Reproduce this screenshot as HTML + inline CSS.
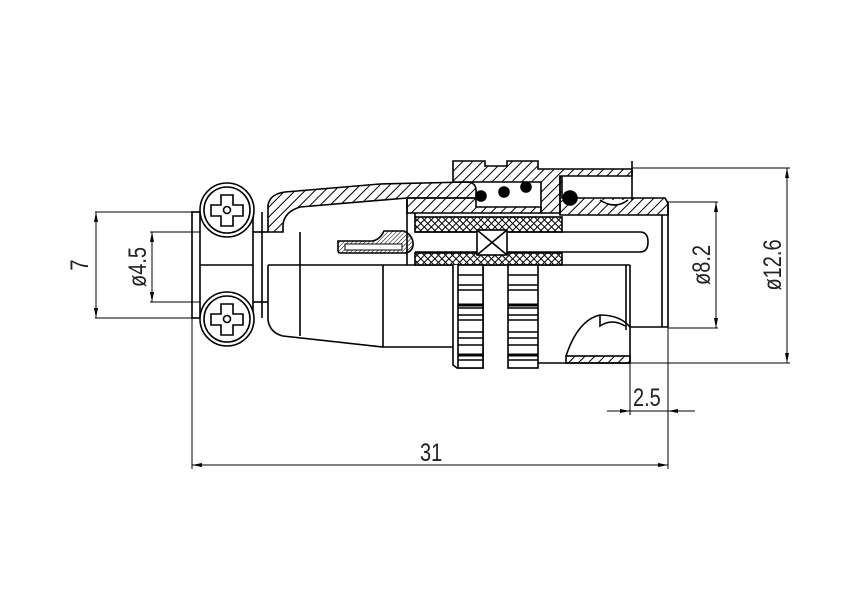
<!DOCTYPE html>
<html><head><style>
html,body{margin:0;padding:0;background:#fff;}
svg{display:block;}
text{font-family:"Liberation Sans Narrow","Liberation Sans",sans-serif;font-size:25px;fill:#222;}
</style></head><body>
<svg width="867" height="615" viewBox="0 0 867 615" xmlns="http://www.w3.org/2000/svg">
<defs>
<pattern id="h" patternUnits="userSpaceOnUse" width="7" height="7" patternTransform="rotate(45)">
<line x1="0" y1="0" x2="0" y2="7" stroke="#000" stroke-width="2"/></pattern>
<pattern id="hf" patternUnits="userSpaceOnUse" width="3" height="3" patternTransform="rotate(45)">
<line x1="0" y1="0" x2="0" y2="3" stroke="#000" stroke-width="1"/></pattern>
<pattern id="x" patternUnits="userSpaceOnUse" width="5" height="5" patternTransform="rotate(45)">
<rect width="5" height="5" fill="#fff"/><line x1="0" y1="0" x2="0" y2="5" stroke="#000" stroke-width="2"/><line x1="0" y1="0" x2="5" y2="0" stroke="#000" stroke-width="2"/></pattern>
<marker id="a" viewBox="0 0 10 4" refX="10" refY="2" markerWidth="10" markerHeight="4" orient="auto-start-reverse" markerUnits="userSpaceOnUse"><path d="M0,0L10,2L0,4z" fill="#000"/></marker>
</defs>
<g fill="none" stroke="#000" stroke-width="1.6">
<rect x="192" y="212" width="8" height="106"/>
<line x1="253" y1="212" x2="253" y2="318"/>
<line x1="262" y1="212" x2="262" y2="318"/>
<line x1="200" y1="265" x2="253" y2="265"/>
<line x1="253" y1="232" x2="268" y2="232"/>
<line x1="253" y1="302" x2="268" y2="302"/>
<g fill="#fff">
<circle cx="227" cy="210" r="27"/><circle cx="227" cy="210" r="23"/>
<circle cx="227" cy="319" r="27"/><circle cx="227" cy="319" r="23"/>
</g>
<path d="M221,195h12v10h10v11h-10v10h-12v-10h-10v-11h10z"/>
<circle cx="227" cy="210" r="3.5"/>
<path d="M221,304h12v10h10v11h-10v10h-12v-10h-10v-11h10z"/>
<circle cx="227" cy="319" r="3.5"/>
<path d="M268,232 V205 Q270,194 285,192 L380,184 L468,182 Q476,183 476,190 V198 L407,198 L300,207 Q284,212 283,225 V232 Z" fill="url(#h)"/>
<line x1="407" y1="198" x2="407" y2="265"/>
<line x1="268" y1="265" x2="630" y2="265"/>
<path d="M268,265 V320 Q270,333 283,336 L383,347 V265"/>
<line x1="300" y1="232" x2="300" y2="336"/>
<line x1="383" y1="347" x2="453" y2="347"/>
<path d="M338,241 H372 Q380,240 384,231 H404 Q414,236 413,246 Q411,253 404,253 H340 Q338,253 338,250Z" fill="url(#hf)"/>
<path d="M345,244 H402 V250 H345Z" fill="#fff" stroke-width="1"/>
<path d="M453,161 H485 V166 H507 V161 H538 V169 H632 V176 H560 V213 H541 V182 H453Z" fill="url(#h)"/>
<path d="M407,198 H476 V207 H541 V213 H407Z" fill="url(#h)"/>
<path d="M560,177 H562 V198 H665 L668,203 V215 H560Z" fill="url(#h)"/>
<line x1="415" y1="213" x2="415" y2="217"/>
<line x1="632" y1="161" x2="632" y2="200"/>
<g fill="#000"><circle cx="481" cy="196" r="5"/><circle cx="504" cy="192" r="5"/><circle cx="526" cy="187" r="5"/><circle cx="570" cy="198" r="7"/></g>
<path d="M600,200 Q615,210 628,200" fill="#fff"/>
<rect x="415" y="217" width="147" height="15" fill="url(#x)"/>
<rect x="415" y="253" width="147" height="12" fill="url(#x)"/>
<path d="M415,232 H640 Q648,232 648,242 Q648,252 640,252 H415"/>
<rect x="477" y="230" width="30" height="25" fill="#fff"/>
<path d="M477,230 L507,255 M507,230 L477,255"/>
<line x1="668" y1="203" x2="668" y2="327"/>
<line x1="662" y1="215" x2="662" y2="327"/>
<line x1="630" y1="265" x2="630" y2="363"/>
<line x1="626" y1="265" x2="626" y2="330"/>
<path d="M630,327 H668"/>
<g fill="#fff">
<path d="M453,265 V365 L457,368 H483 V265"/>
<rect x="458" y="265" width="25" height="103"/>
<rect x="508" y="265" width="30" height="103"/>
</g>
<g stroke-width="1.4">
<path d="M458,275H483M458,285H483M458,290H483M458,308H483M458,315H483M458,320H483M458,332H483M458,338H483M458,345H483M458,360H483"/>
<path d="M508,275H538M508,285H538M508,290H538M508,308H538M508,315H538M508,320H538M508,332H538M508,338H538M508,345H538M508,360H538"/>
</g>
<path d="M458,305H483M508,305H538M458,355H483M508,355H538" stroke-width="3"/>
<line x1="538" y1="363" x2="630" y2="363"/>
<rect x="566" y="356" width="64" height="7" fill="url(#h)"/>
<path d="M566,356 Q578,320 600,315 Q620,315 630,327"/>
<path d="M600,315 V326 Q612,318 625,326"/>
</g>
<g fill="none" stroke="#000" stroke-width="1">
<line x1="95" y1="212" x2="192" y2="212"/><line x1="95" y1="318" x2="192" y2="318"/>
<line x1="96" y1="212" x2="96" y2="318" marker-start="url(#a)" marker-end="url(#a)"/>
<line x1="150" y1="232" x2="200" y2="232"/><line x1="150" y1="302" x2="200" y2="302"/>
<line x1="152" y1="232" x2="152" y2="302" marker-start="url(#a)" marker-end="url(#a)"/>
<line x1="192" y1="318" x2="192" y2="469"/>
<line x1="668" y1="327" x2="668" y2="469"/>
<line x1="192" y1="465" x2="668" y2="465" marker-start="url(#a)" marker-end="url(#a)"/>
<line x1="630" y1="363" x2="630" y2="415"/>
<line x1="607" y1="411" x2="630" y2="411" marker-end="url(#a)"/>
<line x1="695" y1="411" x2="668" y2="411" marker-end="url(#a)"/>
<line x1="630" y1="411" x2="668" y2="411"/>
<line x1="668" y1="202" x2="718" y2="202"/><line x1="668" y1="328" x2="718" y2="328"/>
<line x1="716" y1="202" x2="716" y2="328" marker-start="url(#a)" marker-end="url(#a)"/>
<line x1="632" y1="168" x2="790" y2="168"/><line x1="630" y1="363" x2="790" y2="363"/>
<line x1="787" y1="168" x2="787" y2="363" marker-start="url(#a)" marker-end="url(#a)"/>
</g>
<text transform="translate(420,461) scale(0.8,1)">31</text>
<text transform="translate(633,406) scale(0.8,1)">2.5</text>
<text transform="translate(88,265) rotate(-90) scale(0.8,1)" text-anchor="middle">7</text>
<text transform="translate(146,267) rotate(-90) scale(0.8,1)" text-anchor="middle">ø4.5</text>
<text transform="translate(710,265) rotate(-90) scale(0.8,1)" text-anchor="middle">ø8.2</text>
<text transform="translate(781,265) rotate(-90) scale(0.8,1)" text-anchor="middle">ø12.6</text>
</svg>
</body></html>
